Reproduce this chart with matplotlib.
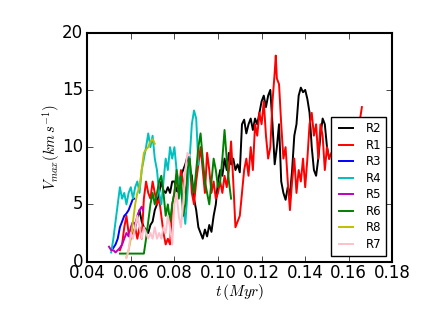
import matplotlib
matplotlib.use("Agg")
import matplotlib.pyplot as plt

# ── Data ─────────────────────────────────────────────────────────────

r2_t = [0.062, 0.063, 0.064, 0.065, 0.066, 0.067, 0.068, 0.069, 0.070, 0.071,
        0.072, 0.073, 0.074, 0.075, 0.076, 0.077, 0.078, 0.079, 0.080, 0.081,
        0.082, 0.083, 0.084, 0.085, 0.086, 0.087, 0.088, 0.089, 0.090, 0.091,
        0.092, 0.093, 0.094, 0.095, 0.096, 0.097, 0.098, 0.099, 0.100, 0.101,
        0.102, 0.103, 0.104, 0.105, 0.106, 0.107, 0.108, 0.109, 0.110, 0.111,
        0.112, 0.113, 0.114, 0.115, 0.116, 0.117, 0.118, 0.119, 0.120, 0.121,
        0.122, 0.123, 0.124, 0.125, 0.126, 0.127, 0.128, 0.129, 0.130, 0.131,
        0.132, 0.133, 0.134, 0.135, 0.136, 0.137, 0.138, 0.139, 0.140, 0.141,
        0.142, 0.143, 0.144, 0.145, 0.146, 0.147, 0.148, 0.149, 0.150, 0.151]
r2_v = [3.0, 3.8, 4.5, 3.5, 3.0, 2.8, 2.5, 3.2, 3.5, 4.5,
        5.0, 6.0, 7.0, 6.2, 6.0, 6.5, 6.0, 7.0, 7.0, 6.2,
        6.0, 7.5, 8.0, 8.5, 9.2, 8.0, 7.5, 5.5, 4.5, 3.0,
        2.5, 2.0, 2.8, 2.2, 3.2, 2.6, 4.0, 5.0, 7.0, 8.0,
        7.5, 9.0, 8.0, 9.5, 8.5, 9.0, 8.0, 8.5, 7.8, 12.0,
        12.4, 11.2, 12.0, 12.5, 11.5, 12.5, 12.0, 13.0, 14.0, 14.5,
        13.5, 14.5, 15.0, 12.0, 8.5, 10.0, 12.0, 7.0, 6.0, 5.4,
        6.5, 5.8, 8.0, 11.0, 12.0, 14.5, 15.2, 14.8, 15.0, 14.2,
        13.0, 10.0, 8.0, 7.5, 9.0, 11.0, 12.5, 12.0, 10.0, 9.0]

r1_t = [0.055, 0.056, 0.057, 0.058, 0.059, 0.060, 0.061, 0.062, 0.063, 0.064,
        0.065, 0.066, 0.067, 0.068, 0.069, 0.070, 0.071, 0.072, 0.073, 0.074,
        0.075, 0.076, 0.077, 0.078, 0.079, 0.080, 0.081, 0.082, 0.083, 0.084,
        0.085, 0.086, 0.087, 0.088, 0.089, 0.090, 0.091, 0.092, 0.093, 0.094,
        0.095, 0.096, 0.097, 0.098, 0.099, 0.100, 0.101, 0.102, 0.103, 0.104,
        0.105, 0.106, 0.107, 0.108, 0.109, 0.110, 0.111, 0.112, 0.113, 0.114,
        0.115, 0.116, 0.117, 0.118, 0.119, 0.120, 0.121, 0.122, 0.123, 0.124,
        0.125, 0.126, 0.1265, 0.127, 0.128, 0.129, 0.130, 0.131, 0.132, 0.133,
        0.134, 0.135, 0.136, 0.137, 0.138, 0.139, 0.140, 0.141, 0.142, 0.143,
        0.144, 0.145, 0.146, 0.147, 0.148, 0.149, 0.150, 0.151, 0.152, 0.154,
        0.156, 0.158, 0.160, 0.162, 0.164, 0.166]
r1_v = [1.0, 1.5, 3.0, 4.0, 2.5, 2.0, 2.5, 3.0, 2.0, 3.0,
        2.0, 5.5, 7.0, 6.0, 5.5, 7.0, 6.0, 5.0, 5.5, 4.0,
        2.5, 1.5, 2.0, 1.5, 5.0, 6.0, 7.5, 6.0, 8.0, 7.0,
        6.0, 7.0, 9.0, 6.0, 5.0, 7.0, 8.5, 10.0, 8.0, 6.0,
        9.5, 8.0, 6.0, 7.0, 5.5, 6.0, 7.0, 6.0, 7.5, 6.5,
        8.0, 10.5, 7.0, 3.0, 3.5, 4.0, 6.0, 8.0, 9.0, 7.5,
        10.0, 8.0, 12.0, 11.0, 13.0, 12.0, 14.0, 11.0, 9.0, 10.0,
        14.0, 16.5, 18.0, 16.0, 15.5, 12.0, 9.0, 10.0, 7.0, 4.5,
        7.0, 9.0, 6.0, 8.0, 7.0, 9.0, 6.5, 9.0, 12.0, 13.0,
        11.0, 12.0, 9.0, 12.0, 11.0, 8.0, 10.0, 9.0, 9.5, 10.0,
        9.0, 10.5, 9.5, 10.0, 11.0, 13.5]

r3_t = [0.052, 0.053, 0.054, 0.055, 0.056, 0.057, 0.058, 0.059, 0.060, 0.061, 0.0615]
r3_v = [1.2, 1.5, 2.0, 3.0, 3.5, 4.0, 4.2, 4.5, 5.0, 5.5, 5.5]

r4_t = [0.051, 0.052, 0.053, 0.054, 0.055, 0.056, 0.057, 0.058, 0.059, 0.060,
        0.061, 0.062, 0.063, 0.064, 0.065, 0.066, 0.067, 0.068, 0.069, 0.070,
        0.071, 0.072, 0.073, 0.074, 0.075, 0.076, 0.077, 0.078, 0.079, 0.080,
        0.081, 0.082, 0.083, 0.084, 0.085, 0.086, 0.087, 0.088, 0.089, 0.090,
        0.091]
r4_v = [0.8, 2.0, 3.5, 5.0, 6.5, 5.5, 6.0, 5.0, 6.0, 6.5,
        5.5, 6.5, 7.0, 6.0, 8.0, 9.0, 10.0, 11.2, 10.0, 11.0,
        9.0, 8.0, 6.0, 5.0, 7.0, 9.0, 8.0, 10.0, 9.0, 10.0,
        8.0, 7.0, 6.0, 5.0, 3.3, 6.0, 9.0, 12.0, 13.2, 12.5,
        8.5]

r5_t = [0.050, 0.051, 0.052, 0.053, 0.054, 0.055, 0.056, 0.057, 0.058, 0.059,
        0.060, 0.061, 0.062, 0.063, 0.064, 0.065, 0.0655]
r5_v = [1.3, 1.0, 1.0, 0.8, 1.0, 1.2, 1.5, 2.0, 2.5, 2.2,
        3.0, 3.5, 3.2, 4.0, 4.5, 4.8, 4.5]

r6_t = [0.055, 0.066, 0.067, 0.068, 0.069, 0.070, 0.071, 0.072, 0.073, 0.074,
        0.075, 0.076, 0.077, 0.078, 0.079, 0.080, 0.081, 0.082, 0.083, 0.084,
        0.085, 0.086, 0.087, 0.088, 0.089, 0.090, 0.091, 0.092, 0.093, 0.094,
        0.095, 0.096, 0.097, 0.098, 0.099, 0.100, 0.101, 0.102, 0.103, 0.104,
        0.105, 0.106]
r6_v = [0.7, 0.7, 2.0, 3.5, 5.0, 6.0, 5.0, 6.0, 7.0, 7.5,
        6.0, 4.0, 5.0, 3.5, 5.0, 6.0, 8.0, 5.5, 7.5, 4.0,
        5.0, 8.0, 9.0, 7.0, 6.0, 8.0, 10.0, 11.2, 9.0, 7.0,
        6.0, 5.0, 7.0, 9.0, 8.0, 6.5, 7.0, 9.0, 11.5, 9.0,
        7.0, 5.5]

r8_t = [0.058, 0.059, 0.060, 0.061, 0.062, 0.063, 0.064, 0.065, 0.066, 0.067,
        0.068, 0.069, 0.070, 0.071]
r8_v = [0.4, 1.0, 2.0, 3.5, 5.0, 6.0, 6.5, 8.0, 9.5, 9.8,
        10.0, 10.5, 10.7, 10.3]

r7_t = [0.058, 0.059, 0.060, 0.061, 0.062, 0.063, 0.064, 0.065, 0.066, 0.067,
        0.068, 0.069, 0.070, 0.071, 0.072, 0.073, 0.074, 0.075, 0.076, 0.077,
        0.078, 0.079, 0.080, 0.081, 0.082, 0.083, 0.084, 0.085, 0.086, 0.087]
r7_v = [0.3, 1.0, 2.5, 2.0, 3.0, 4.0, 3.0, 2.0, 3.0, 2.5,
        2.0, 2.5, 2.0, 3.0, 2.0, 2.5, 2.0, 3.0, 2.5, 4.0,
        3.0, 1.5, 5.0, 6.0, 4.0, 3.0, 5.0, 8.0, 9.5, 9.3]

series = [
    ("R2", r2_t, r2_v, "k"),
    ("R1", r1_t, r1_v, "r"),
    ("R3", r3_t, r3_v, "b"),
    ("R4", r4_t, r4_v, "c"),
    ("R5", r5_t, r5_v, "m"),
    ("R6", r6_t, r6_v, "g"),
    ("R8", r8_t, r8_v, "y"),
    ("R7", r7_t, r7_v, "pink"),
]

# ── Plot ─────────────────────────────────────────────────────────────

plt.style.use("classic")
plt.rcParams["font.size"] = 12
plt.rcParams["axes.linewidth"] = 1.5
plt.rcParams["xtick.major.pad"] = 2
plt.rcParams["ytick.major.pad"] = 3

fig = plt.figure(figsize=(4.36, 3.27), dpi=100, facecolor="white")
ax = fig.add_axes([0.2, 0.2, 0.7, 0.7])

for name, t, v, c in series:
    ax.plot(t, v, color=c, linewidth=1.4, label=name)

ax.set_xlim(0.04, 0.18)
ax.set_ylim(0, 20)
ax.set_xticks([0.04, 0.06, 0.08, 0.10, 0.12, 0.14, 0.16, 0.18])
ax.set_yticks([0, 5, 10, 15, 20])
ax.set_xlabel(r"$t\,(Myr)$", fontsize=11, labelpad=0)
ax.set_ylabel(r"$V_{max}(km\,s^{-1})$", fontsize=10.5, labelpad=0)

leg = ax.legend(loc="lower right", fontsize=8.5, borderaxespad=0.5,
                labelspacing=0.3, handlelength=1.8, handletextpad=0.8)
leg.get_frame().set_linewidth(1.0)

fig.savefig("out.png", dpi=100, facecolor="white")
